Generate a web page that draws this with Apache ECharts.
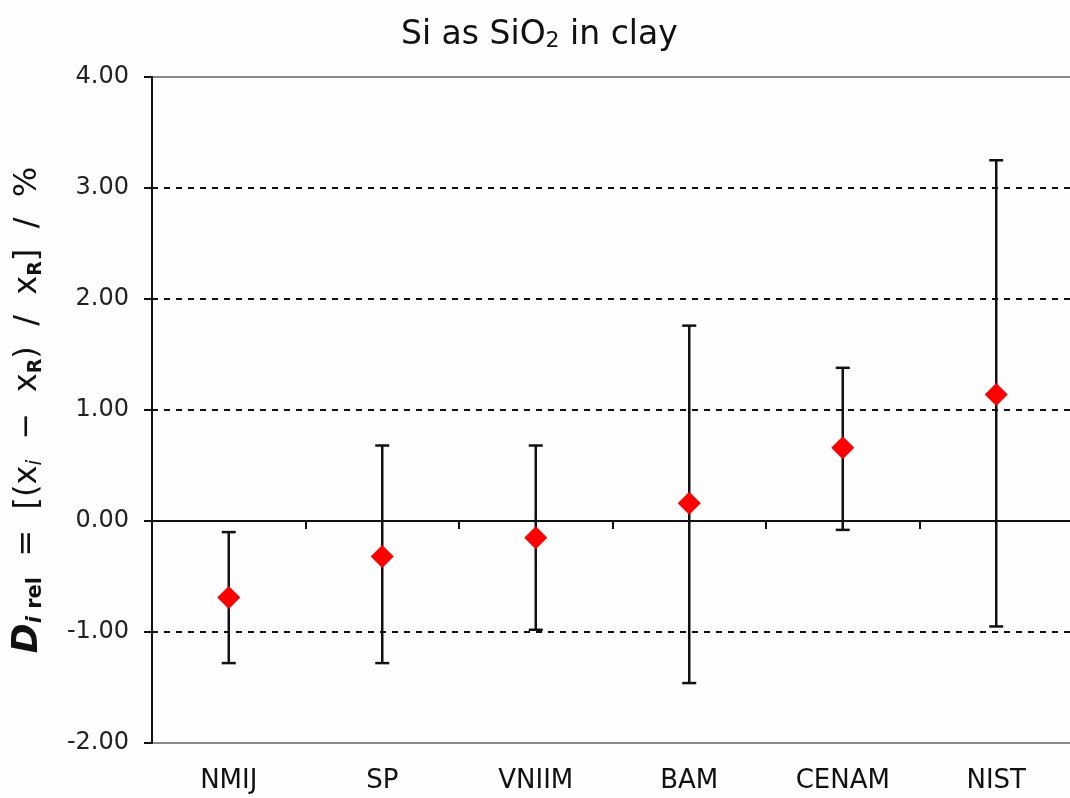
<!DOCTYPE html>
<html>
<head>
<meta charset="utf-8">
<script src="https://cdn.jsdelivr.net/npm/echarts@6/dist/echarts.min.js"></script>
<style>
  html, body { margin: 0; padding: 0; background: #fdfefd; }
  #chart { width: 1070px; height: 798px; }
</style>
</head>
<body>
<div id="chart"></div>
<script>
// 数据
var categories = ["NMIJ", "SP", "VNIIM", "BAM", "CENAM", "NIST"];
var values = [-0.69, -0.32, -0.15, 0.16, 0.66, 1.14];
var lowerValues = [-1.28, -1.28, -0.98, -1.46, -0.08, -0.95];
var upperValues = [-0.10, 0.68, 0.68, 1.76, 1.38, 3.25];

var font = "DejaVu Sans";
var ink = "#111";

var errorData = categories.map(function (c, i) {
  return [i, lowerValues[i], upperValues[i]];
});

var chart = echarts.init(document.getElementById("chart"));
var options = {
  backgroundColor: "#fdfefd",
  animation: false,
  title: {
    text: "{t|Si as SiO}{sub|2}{t| in clay}",
    left: 396,
    top: 14,
    textStyle: {
      fontWeight: "normal",
      rich: {
        t: { fontFamily: font, fontSize: 33, lineHeight: 33, fontWeight: "normal", color: ink },
        sub: { fontFamily: font, fontSize: 22, lineHeight: 22, fontWeight: "normal", color: ink,
               padding: [20, 0, 0, 0], verticalAlign: "bottom" },
      },
    },
  },
  grid: {
    left: 152,
    width: 921,
    top: 77,
    bottom: 55,
    outerBoundsMode: "none",
    containLabel: false,
    show: true,
    borderColor: "#8a8a8a",
    borderWidth: 2,
    backgroundColor: "transparent",
  },
  xAxis: [
    {
      type: "category",
      data: categories,
      position: "bottom",
      axisLine: { onZero: true, lineStyle: { color: ink, width: 2 } },
      axisTick: { show: true, length: 8, alignWithLabel: false,
                  lineStyle: { color: ink, width: 2 } },
      axisLabel: { show: false },
      splitLine: { show: false },
    },
    {
      type: "category",
      data: categories,
      position: "bottom",
      axisLine: { show: false, onZero: false },
      axisTick: { show: false },
      axisLabel: { show: true, margin: 25, fontFamily: font, fontSize: 26, color: ink },
      splitLine: { show: false },
    },
  ],
  yAxis: {
    type: "value",
    min: -2,
    max: 4,
    interval: 1,
    name: "{it|D}{sb|i}{sbb| rel}{t|  =  [(x}{si|i}{t|  −  x}{sr|R}{t|)  /  x}{sr|R}{t|]  /  %}",
    nameLocation: "middle",
    nameGap: 106,
    nameTextStyle: {
      rich: {
        it: { fontFamily: font, fontSize: 36, lineHeight: 36, fontStyle: "italic", fontWeight: "bold", color: ink },
        sb: { fontFamily: font, fontSize: 21, lineHeight: 21, fontStyle: "italic", fontWeight: "bold", color: ink,
              padding: [18, 0, 0, 0], verticalAlign: "bottom" },
        sbb: { fontFamily: font, fontSize: 21, lineHeight: 21, fontWeight: "bold", color: ink,
               padding: [18, 0, 0, 0], verticalAlign: "bottom" },
        t: { fontFamily: font, fontSize: 32, lineHeight: 32, color: ink },
        si: { fontFamily: font, fontSize: 21, lineHeight: 21, fontStyle: "italic", color: ink,
              padding: [18, 0, 0, 0], verticalAlign: "bottom" },
        sr: { fontFamily: font, fontSize: 19, lineHeight: 19, fontWeight: "bold", color: ink,
              padding: [14, 0, 0, 0], verticalAlign: "bottom" },
      },
    },
    axisLine: { show: true, onZero: false, lineStyle: { color: ink, width: 2 } },
    axisTick: { show: true, length: 8, lineStyle: { color: ink, width: 2 } },
    axisLabel: {
      margin: 23,
      fontFamily: font,
      fontSize: 24,
      color: "#222",
      formatter: function (v) { return v.toFixed(2); },
    },
    splitLine: {
      show: true,
      showMinLine: false,
      showMaxLine: false,
      lineStyle: { color: ink, width: 2, type: [6, 6] },
    },
  },
  series: [
    {
      name: "uncertainty",
      type: "custom",
      xAxisIndex: 0,
      data: errorData,
      renderItem: function (params, api) {
        var x = api.value(0);
        var lo = api.coord([x, api.value(1)]);
        var hi = api.coord([x, api.value(2)]);
        var half = 7;
        var style = { stroke: ink, lineWidth: 2.5 };
        return {
          type: "group",
          children: [
            { type: "line", shape: { x1: lo[0], y1: lo[1], x2: hi[0], y2: hi[1] }, style: style },
            { type: "line", shape: { x1: lo[0] - half, y1: lo[1], x2: lo[0] + half, y2: lo[1] }, style: style },
            { type: "line", shape: { x1: hi[0] - half, y1: hi[1], x2: hi[0] + half, y2: hi[1] }, style: style },
          ],
        };
      },
      z: 2,
    },
    {
      name: "value",
      type: "scatter",
      xAxisIndex: 0,
      data: values,
      symbol: "diamond",
      symbolSize: [23, 23],
      itemStyle: { color: "#ff0000", opacity: 1 },
      z: 3,
    },
  ],
};
chart.setOption(options);
</script>
</body>
</html>
